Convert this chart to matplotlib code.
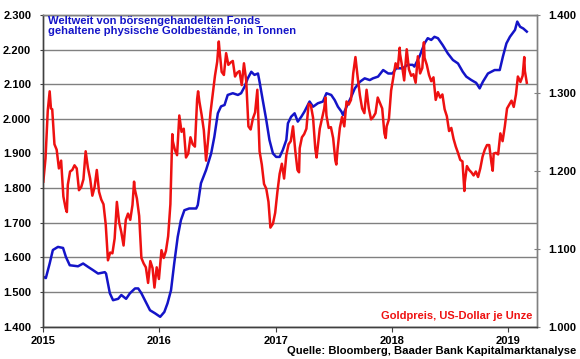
import pandas as pd
import matplotlib
matplotlib.use("Agg")
import matplotlib.pyplot as plt
import matplotlib.dates as mdates
from matplotlib.ticker import FuncFormatter, MultipleLocator

plt.rcParams['font.family'] = ['Liberation Sans', 'DejaVu Sans']
plt.rcParams['font.weight'] = 'bold'

# ETF gold holdings (tonnes)
etf_dates = [
    "2015-01-01", "2015-01-10", "2015-01-22", "2015-02-01", "2015-02-17", "2015-03-05",
    "2015-03-14", "2015-03-26", "2015-04-21", "2015-05-07", "2015-05-23", "2015-06-07",
    "2015-06-23", "2015-07-14", "2015-07-18", "2015-07-30", "2015-08-09", "2015-08-25",
    "2015-09-04", "2015-09-19", "2015-10-01", "2015-10-17", "2015-10-27", "2015-11-06",
    "2015-11-17", "2015-12-03", "2015-12-19", "2016-01-04", "2016-01-17", "2016-01-27",
    "2016-02-07", "2016-02-17", "2016-02-28", "2016-03-09", "2016-03-20", "2016-04-04",
    "2016-04-26", "2016-05-01", "2016-05-11", "2016-05-27", "2016-06-12", "2016-06-22",
    "2016-07-03", "2016-07-13", "2016-07-24", "2016-08-03", "2016-08-19", "2016-09-04",
    "2016-09-14", "2016-09-25", "2016-10-05", "2016-10-16", "2016-10-26", "2016-11-06",
    "2016-11-11", "2016-11-21", "2016-12-02", "2016-12-12", "2016-12-23", "2017-01-02",
    "2017-01-13", "2017-01-23", "2017-02-03", "2017-02-08", "2017-02-18", "2017-03-01",
    "2017-03-11", "2017-03-22", "2017-04-01", "2017-04-17", "2017-04-28", "2017-05-13",
    "2017-05-29", "2017-06-09", "2017-06-24", "2017-07-05", "2017-07-15", "2017-07-26",
    "2017-07-31", "2017-08-11", "2017-08-26", "2017-09-06", "2017-09-22", "2017-10-07",
    "2017-10-23", "2017-11-02", "2017-11-18", "2017-12-04", "2017-12-20", "2018-01-02",
    "2018-01-14", "2018-02-03", "2018-02-19", "2018-03-07", "2018-03-12", "2018-03-28",
    "2018-04-13", "2018-04-23", "2018-05-04", "2018-05-14", "2018-05-25", "2018-06-09",
    "2018-06-25", "2018-07-11", "2018-07-27", "2018-08-11", "2018-08-22", "2018-09-07",
    "2018-09-22", "2018-10-03", "2018-10-13", "2018-10-29", "2018-11-19", "2018-12-05",
    "2018-12-15", "2018-12-26", "2019-01-06", "2019-01-22", "2019-01-29", "2019-02-07",
    "2019-02-17", "2019-02-28",
]
etf_tonnes = [
    1544, 1540, 1582, 1621, 1630, 1627,
    1601, 1577, 1574, 1582, 1572, 1563,
    1553, 1557, 1553, 1496, 1476, 1480,
    1491, 1480, 1496, 1510, 1510, 1496,
    1476, 1447, 1438, 1428, 1442, 1467,
    1505, 1582, 1659, 1707, 1736, 1741,
    1741, 1751, 1814, 1852, 1900, 1948,
    2016, 2036, 2040, 2069, 2074, 2069,
    2074, 2093, 2117, 2136, 2127, 2131,
    2107, 2054, 1997, 1939, 1900, 1890,
    1890, 1910, 1939, 1987, 2006, 2016,
    1992, 2006, 2021, 2050, 2035, 2045,
    2050, 2074, 2069, 2054, 2035, 2021,
    2011, 2035, 2064, 2088, 2107, 2117,
    2112, 2117, 2122, 2141, 2131, 2131,
    2146, 2146, 2156, 2156, 2151, 2180,
    2218, 2233, 2228, 2237, 2233, 2213,
    2189, 2170, 2160, 2136, 2122, 2112,
    2104, 2088, 2107, 2131, 2141, 2141,
    2180, 2218, 2237, 2257, 2281, 2266,
    2261, 2252,
]

# Gold price, USD per ounce
gold_dates = [
    "2015-01-02", "2015-01-09", "2015-01-16", "2015-01-22", "2015-01-26", "2015-01-30",
    "2015-02-06", "2015-02-13", "2015-02-20", "2015-02-27", "2015-03-06", "2015-03-13",
    "2015-03-17", "2015-03-20", "2015-03-27", "2015-04-03", "2015-04-10", "2015-04-17",
    "2015-04-24", "2015-05-01", "2015-05-08", "2015-05-15", "2015-05-22", "2015-05-29",
    "2015-06-05", "2015-06-12", "2015-06-19", "2015-06-26", "2015-07-03", "2015-07-10",
    "2015-07-17", "2015-07-24", "2015-07-31", "2015-08-07", "2015-08-14", "2015-08-21",
    "2015-08-28", "2015-09-04", "2015-09-11", "2015-09-18", "2015-09-25", "2015-10-02",
    "2015-10-09", "2015-10-14", "2015-10-16", "2015-10-23", "2015-10-30", "2015-11-06",
    "2015-11-13", "2015-11-20", "2015-11-27", "2015-12-04", "2015-12-11", "2015-12-17",
    "2015-12-24", "2015-12-31",
    "2016-01-08", "2016-01-15", "2016-01-22", "2016-01-29", "2016-02-05", "2016-02-11",
    "2016-02-12", "2016-02-19", "2016-02-26", "2016-03-04", "2016-03-11", "2016-03-18",
    "2016-03-25", "2016-04-01", "2016-04-08", "2016-04-15", "2016-04-22", "2016-04-29",
    "2016-05-02", "2016-05-06", "2016-05-13", "2016-05-20", "2016-05-27", "2016-06-03",
    "2016-06-10", "2016-06-17", "2016-06-24", "2016-07-01", "2016-07-06", "2016-07-08",
    "2016-07-15", "2016-07-22", "2016-07-29", "2016-08-05", "2016-08-12", "2016-08-19",
    "2016-08-26", "2016-09-02", "2016-09-09", "2016-09-16", "2016-09-23", "2016-09-30",
    "2016-10-07", "2016-10-14", "2016-10-21", "2016-10-28", "2016-11-04", "2016-11-11",
    "2016-11-18", "2016-11-25", "2016-12-02", "2016-12-09", "2016-12-15", "2016-12-23",
    "2016-12-30",
    "2017-01-06", "2017-01-13", "2017-01-20", "2017-01-27", "2017-02-03", "2017-02-10",
    "2017-02-17", "2017-02-24", "2017-03-03", "2017-03-10", "2017-03-15", "2017-03-17",
    "2017-03-24", "2017-03-31", "2017-04-07", "2017-04-14", "2017-04-21", "2017-04-28",
    "2017-05-05", "2017-05-09", "2017-05-12", "2017-05-19", "2017-05-26", "2017-06-02",
    "2017-06-06", "2017-06-09", "2017-06-16", "2017-06-23", "2017-06-30", "2017-07-07",
    "2017-07-10", "2017-07-14", "2017-07-21", "2017-07-28", "2017-08-04", "2017-08-11",
    "2017-08-18", "2017-08-25", "2017-09-01", "2017-09-08", "2017-09-15", "2017-09-22",
    "2017-09-29", "2017-10-06", "2017-10-13", "2017-10-20", "2017-10-27", "2017-11-03",
    "2017-11-10", "2017-11-17", "2017-11-24", "2017-12-01", "2017-12-08", "2017-12-12",
    "2017-12-15", "2017-12-22", "2017-12-29",
    "2018-01-05", "2018-01-12", "2018-01-19", "2018-01-25", "2018-01-26", "2018-02-02",
    "2018-02-08", "2018-02-16", "2018-02-23", "2018-03-02", "2018-03-09", "2018-03-16",
    "2018-03-23", "2018-03-30", "2018-04-06", "2018-04-11", "2018-04-13", "2018-04-20",
    "2018-04-27", "2018-05-04", "2018-05-11", "2018-05-18", "2018-05-25", "2018-06-01",
    "2018-06-08", "2018-06-15", "2018-06-22", "2018-06-29", "2018-07-06", "2018-07-13",
    "2018-07-20", "2018-07-27", "2018-08-03", "2018-08-10", "2018-08-16", "2018-08-17",
    "2018-08-24", "2018-08-31", "2018-09-07", "2018-09-14", "2018-09-21", "2018-09-28",
    "2018-10-05", "2018-10-12", "2018-10-19", "2018-10-26", "2018-11-02", "2018-11-09",
    "2018-11-13", "2018-11-16", "2018-11-23", "2018-11-30", "2018-12-07", "2018-12-14",
    "2018-12-21", "2018-12-28",
    "2019-01-04", "2019-01-11", "2019-01-18", "2019-01-25", "2019-01-31", "2019-02-08",
    "2019-02-15", "2019-02-20", "2019-02-22", "2019-02-28",
]
gold_usd = [
    1186, 1216, 1277, 1302, 1280, 1279,
    1234, 1227, 1203, 1213, 1167, 1152,
    1147, 1182, 1199, 1201, 1207, 1203,
    1175, 1179, 1189, 1225, 1204, 1190,
    1168, 1179, 1201, 1173, 1163, 1157,
    1131, 1085, 1095, 1094, 1113, 1160,
    1134, 1121, 1104, 1137, 1145, 1137,
    1156, 1186, 1177, 1164, 1142, 1088,
    1081, 1076, 1056, 1084, 1075, 1050,
    1076, 1061,
    1098, 1088, 1097, 1116, 1157, 1247,
    1239, 1227, 1220, 1271, 1250, 1254,
    1217, 1222, 1243, 1234, 1231, 1292,
    1302, 1289, 1272, 1252, 1213, 1242,
    1275, 1298, 1322, 1340, 1366, 1356,
    1327, 1323, 1351, 1336, 1339, 1341,
    1321, 1326, 1328, 1310, 1338, 1316,
    1257, 1253, 1267, 1275, 1304, 1225,
    1208, 1183, 1177, 1160, 1127, 1132,
    1146,
    1173, 1196, 1209, 1190, 1220, 1234,
    1238, 1257, 1226, 1201, 1198, 1229,
    1243, 1247, 1254, 1286, 1284, 1268,
    1228, 1217, 1228, 1254, 1267, 1280,
    1294, 1271, 1255, 1256, 1242, 1213,
    1208, 1228, 1255, 1269, 1257, 1289,
    1285, 1291, 1325, 1346, 1320, 1297,
    1280, 1274, 1304, 1280, 1266, 1269,
    1274, 1294, 1287, 1280, 1248, 1242,
    1257, 1266, 1303,
    1320, 1338, 1332, 1358, 1350, 1333,
    1316, 1356, 1330, 1322, 1324, 1313,
    1347, 1325, 1332, 1365, 1345, 1336,
    1323, 1315, 1320, 1291, 1301, 1294,
    1298, 1279, 1270, 1251, 1255, 1241,
    1231, 1223, 1214, 1212, 1174, 1184,
    1206, 1201, 1198, 1194, 1199, 1192,
    1203, 1218, 1227, 1233, 1233, 1210,
    1200, 1222, 1223, 1221, 1248, 1238,
    1257, 1280,
    1285, 1290, 1282, 1298, 1321, 1314,
    1322, 1346, 1328, 1313,
]

years = ["2015", "2016", "2017", "2018", "2019"]

BLUE = '#1414c8'
RED = '#ee1111'
GRID = '#808080'
SPINE = '#404040'


def de_fmt(v, pos):
    # German thousands separator
    return f"{v:,.0f}".replace(",", ".")


fig = plt.figure(figsize=(5.8, 3.59), dpi=100)
ax = fig.add_axes([0.0741, 0.0905, 0.8512, 0.8677])
ax2 = ax.twinx()

ax.plot(pd.to_datetime(etf_dates), etf_tonnes, color=BLUE, lw=1.8)
ax2.plot(pd.to_datetime(gold_dates), gold_usd, color=RED, lw=1.8)

ax.set_xlim(pd.Timestamp("2015-01-01"), pd.Timestamp("2019-03-31"))
ax.set_ylim(1400, 2300)
ax2.set_ylim(1000, 1400)

ax.yaxis.set_major_locator(MultipleLocator(100))
ax.yaxis.set_major_formatter(FuncFormatter(de_fmt))
ax2.yaxis.set_major_locator(MultipleLocator(100))
ax2.yaxis.set_major_formatter(FuncFormatter(de_fmt))

ax.set_xticks(pd.to_datetime([y + "-01-01" for y in years]))
ax.xaxis.set_major_formatter(mdates.DateFormatter("%Y"))

ax.grid(axis='y', color=GRID, lw=1)
ax.set_axisbelow(True)

for a in (ax, ax2):
    for s in a.spines.values():
        s.set_color(GRID)
        s.set_linewidth(1)
    a.spines['left'].set_color(SPINE)
    a.spines['bottom'].set_color(SPINE)

ax.tick_params(axis='y', length=2.5, color=SPINE, pad=6, labelsize=8)
ax.tick_params(axis='x', length=3.5, color=SPINE, pad=3, labelsize=8)
ax2.tick_params(axis='y', direction='inout', length=5, color=GRID, pad=6, labelsize=8)

fig.text(0.083, 1 - 16 / 359,
         "Weltweit von börsengehandelten Fonds\ngehaltene physische Goldbestände, in Tonnen",
         color=BLUE, fontsize=8.1, fontweight='bold', va='top', ha='left', linespacing=1.0)
fig.text(532 / 580, 1 - 319 / 359, "Goldpreis, US-Dollar je Unze",
         color=RED, fontsize=8.05, fontweight='bold', va='baseline', ha='right')
fig.text(576 / 580, 1 - 354 / 359, "Quelle: Bloomberg, Baader Bank Kapitalmarktanalyse",
         color='black', fontsize=8.1, fontweight='bold', va='baseline', ha='right')

fig.savefig("out.png", dpi=100)
